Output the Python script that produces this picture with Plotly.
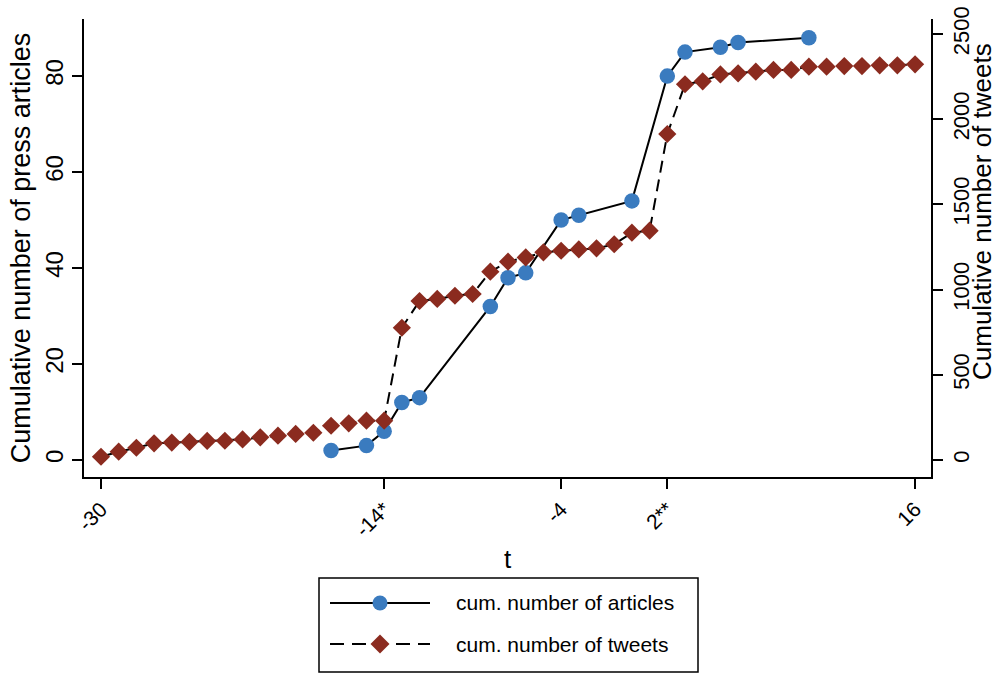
import plotly.graph_objects as go

# ---- data ----
art_t = [-17, -15, -14, -13, -12, -8, -7, -6, -4, -3, 0, 2, 3, 5, 6, 10]
art_cum = [2, 3, 6, 12, 13, 32, 38, 39, 50, 51, 54, 80, 85, 86, 87, 88]

tw_t = list(range(-30, 17))
tw_cum = [19, 49, 72, 98, 102, 106, 112, 113, 121, 133, 143, 153, 160,
          201, 215, 231, 231,
          776, 933, 945, 964, 974, 1105, 1164, 1189, 1219, 1228, 1236, 1242,
          1266, 1334, 1346,
          1913, 2205, 2222, 2263, 2269, 2279, 2289, 2289, 2308, 2308, 2312,
          2312, 2316, 2316, 2322]

x_tickvals = [-30, -14, -4, 2, 16]
x_ticktext = ["-30", "-14*", "-4", "2**", "16"]

BLUE = "#3A7BBF"
RED = "#8B2B1F"
FONT = "Liberation Sans, Arial, sans-serif"

W, H = 1000, 673
L, R, T, B = 84, 931, 19, 477  # plot area in pixels


def px(x):
    return (x - L) / (R - L)


def py(y):
    return (B - y) / (B - T)


fig = go.Figure()
fig.add_trace(go.Scatter(
    x=tw_t, y=tw_cum, yaxis="y2", mode="lines+markers",
    name="cum. number of tweets",
    line=dict(color="black", width=2, dash="12px,7px"),
    marker=dict(symbol="diamond", size=14, color=RED),
))
fig.add_trace(go.Scatter(
    x=art_t, y=art_cum, mode="lines+markers",
    name="cum. number of articles",
    line=dict(color="black", width=2),
    marker=dict(symbol="circle", size=15.5, color=BLUE),
))

axis_common = dict(
    showline=True, linecolor="black", linewidth=1.5,
    ticks="outside", ticklen=10, tickwidth=1.5, tickcolor="black",
    showgrid=False, zeroline=False, automargin=True,
    tickfont=dict(size=24, color="black", family=FONT),
)

fig.update_layout(
    width=W, height=H,
    margin=dict(l=L, r=W - R, t=T, b=H - B, autoexpand=False),
    paper_bgcolor="white", plot_bgcolor="white",
    showlegend=False,
    font=dict(family=FONT, color="black"),
    xaxis=dict(
        **axis_common,
        range=[-30.96, 16.9],
        tickvals=x_tickvals, ticktext=x_ticktext, tickangle=-45,
        title=dict(text="t", font=dict(size=26), standoff=10),
    ),
    yaxis=dict(
        **axis_common,
        range=[-3.54, 91.9],
        tickvals=[0, 20, 40, 60, 80], tickangle=-90,
        title=dict(text="Cumulative number of press articles",
                   font=dict(size=27), standoff=2),
    ),
    yaxis2=dict(
        **axis_common,
        overlaying="y", side="right",
        range=[-99.8, 2588],
        tickvals=[0, 500, 1000, 1500, 2000, 2500], tickangle=-90,
    ),
)
fig.update_xaxes(tickfont=dict(size=21))
fig.update_layout(yaxis2_tickfont_size=22)

# right axis title as rotated text
fig.add_annotation(x=px(982), y=py(212), xref="paper", yref="paper",
                   text="Cumulative number of tweets", showarrow=False,
                   textangle=-90, xanchor="center", yanchor="middle",
                   font=dict(size=26, color="black", family=FONT))

# ---- custom legend (decoration in paper coordinates) ----
shapes = []
shapes.append(dict(type="rect", xref="paper", yref="paper",
                   x0=px(319), x1=px(698), y0=py(578), y1=py(672),
                   line=dict(color="black", width=1.5), fillcolor="white"))
shapes.append(dict(type="line", xref="paper", yref="paper",
                   x0=px(330), x1=px(430), y0=py(603), y1=py(603),
                   line=dict(color="black", width=2)))
shapes.append(dict(type="line", xref="paper", yref="paper",
                   x0=px(330), x1=px(430), y0=py(644), y1=py(644),
                   line=dict(color="black", width=2, dash="14px,8px")))
shapes.append(dict(type="circle", xref="paper", yref="paper",
                   x0=px(372.5), x1=px(387.5), y0=py(595.5), y1=py(610.5),
                   line=dict(color=BLUE, width=0), fillcolor=BLUE))
# diamond
cx, cy, r = 380, 644, 9.5
path = "M {} {} L {} {} L {} {} L {} {} Z".format(
    px(cx), py(cy - r), px(cx + r), py(cy), px(cx), py(cy + r), px(cx - r), py(cy))
shapes.append(dict(type="path", xref="paper", yref="paper", path=path,
                   line=dict(color=RED, width=0), fillcolor=RED))
fig.update_layout(shapes=shapes)

fig.add_annotation(x=px(454), y=py(603), xref="paper", yref="paper",
                   text="cum. number of articles", showarrow=False,
                   xanchor="left", yanchor="middle",
                   font=dict(size=21, color="black", family=FONT))
fig.add_annotation(x=px(454), y=py(644), xref="paper", yref="paper",
                   text="cum. number of tweets", showarrow=False,
                   xanchor="left", yanchor="middle",
                   font=dict(size=21, color="black", family=FONT))

fig.write_html("out.html")
